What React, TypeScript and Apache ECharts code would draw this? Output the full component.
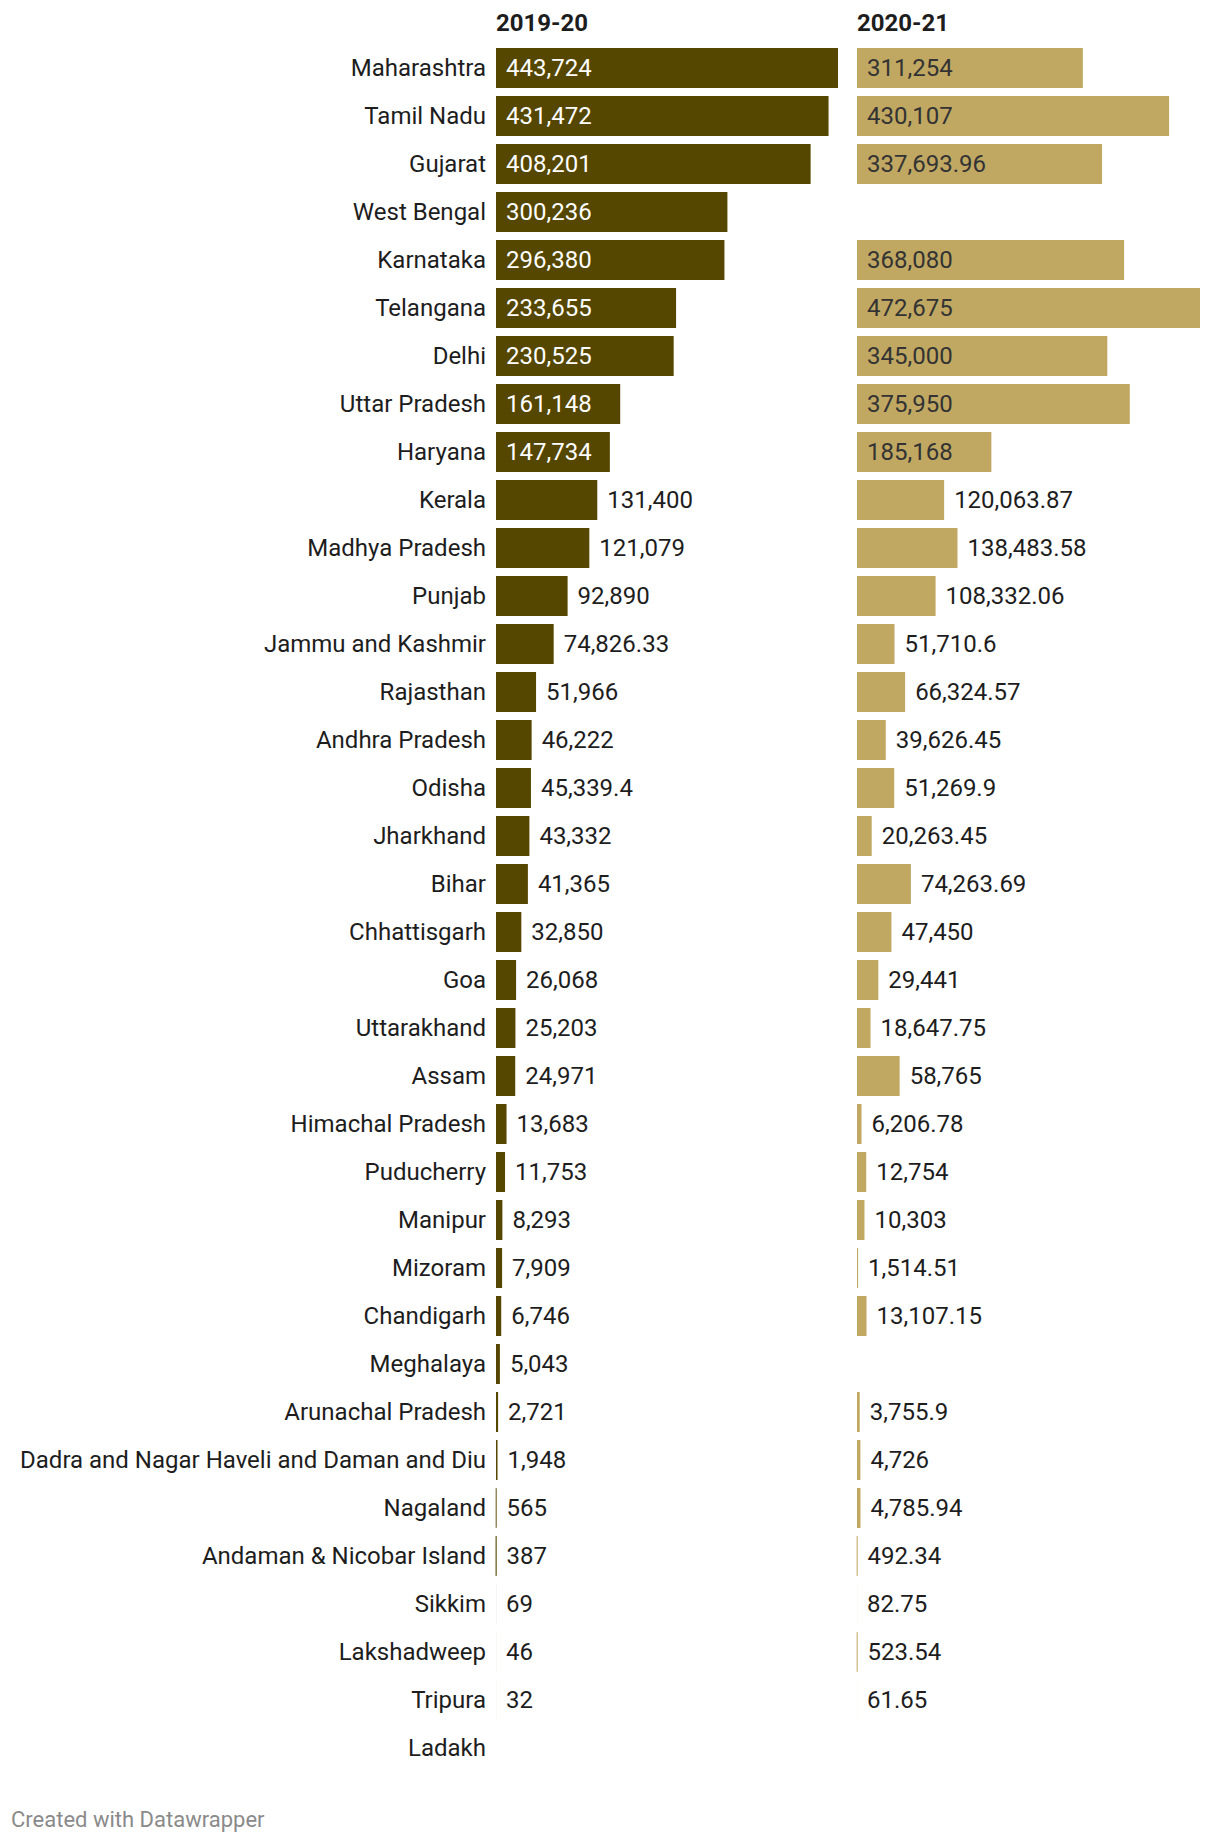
import React, { useEffect, useRef } from "react";
import * as echarts from "echarts";

const states = [
  "Maharashtra", "Tamil Nadu", "Gujarat", "West Bengal", "Karnataka", "Telangana", "Delhi",
  "Uttar Pradesh", "Haryana", "Kerala", "Madhya Pradesh", "Punjab", "Jammu and Kashmir",
  "Rajasthan", "Andhra Pradesh", "Odisha", "Jharkhand", "Bihar", "Chhattisgarh", "Goa",
  "Uttarakhand", "Assam", "Himachal Pradesh", "Puducherry", "Manipur", "Mizoram", "Chandigarh",
  "Meghalaya", "Arunachal Pradesh", "Dadra and Nagar Haveli and Daman and Diu", "Nagaland",
  "Andaman & Nicobar Island", "Sikkim", "Lakshadweep", "Tripura", "Ladakh",
];

const values2019 = [
  443724, 431472, 408201, 300236, 296380, 233655, 230525, 161148, 147734, 131400, 121079, 92890,
  74826.33, 51966, 46222, 45339.4, 43332, 41365, 32850, 26068, 25203, 24971, 13683, 11753, 8293,
  7909, 6746, 5043, 2721, 1948, 565, 387, 69, 46, 32, null,
];

const values2020 = [
  311254, 430107, 337693.96, null, 368080, 472675, 345000, 375950, 185168, 120063.87, 138483.58,
  108332.06, 51710.6, 66324.57, 39626.45, 51269.9, 20263.45, 74263.69, 47450, 29441, 18647.75,
  58765, 6206.78, 12754, 10303, 1514.51, 13107.15, null, 3755.9, 4726, 4785.94, 492.34, 82.75,
  523.54, 61.65, null,
];

const headers = ["2019-20", "2020-21"];
const footer = "Created with Datawrapper";

const FONT = "Roboto";
const FS = 24;
const PANEL_W = 342;
const LEFT_X = 496;
const RIGHT_X = 857;
const TOP = 44;
const ROW = 48;

const fmt = (v: number) => v.toLocaleString("en-US", { maximumFractionDigits: 2 });

export default function App() {
  const ref = useRef<HTMLDivElement>(null);

  useEffect(() => {
    document.body.style.margin = "0";
    if (!ref.current) return;
    const chart = echarts.init(ref.current, null, { renderer: "svg" });

    const canvas = document.createElement("canvas");
    const ctx = canvas.getContext("2d")!;
    ctx.font = `${FS}px ${FONT}`;
    const measure = (s: string) => ctx.measureText(s).width;

    const build = (vals: (number | null)[], color: string, insideColor: string) => {
      const max = Math.max(...(vals.filter((v) => v != null) as number[]));
      return vals.map((v) => {
        if (v == null) return { value: null };
        const barW = (v / max) * PANEL_W;
        const lw = measure(fmt(v));
        const inside = barW >= lw + 20;
        const item: any = {
          value: v,
          label: inside
            ? { position: "insideLeft", distance: 10, color: insideColor }
            : { position: "right", distance: 10, color: "#1d1d1d" },
        };
        // sub-pixel bars snap to a visible hairline, as in the reference rendering
        if (barW >= 0.25 && barW < 1) {
          item.itemStyle = { borderColor: color, borderWidth: 1 - barW };
        }
        return item;
      });
    };

    const rows = states.length;
    const height = rows * ROW;
    const c1 = "#554600";
    const c2 = "#c1a862";

    const option: any = {
      animation: false,
      textStyle: { fontFamily: FONT },
      grid: [
        { left: LEFT_X, top: TOP, width: PANEL_W, height },
        { left: RIGHT_X, top: TOP, width: PANEL_W + 1, height },
      ],
      xAxis: [
        { type: "value", gridIndex: 0, min: 0, max: "dataMax", show: false },
        { type: "value", gridIndex: 1, min: 0, max: "dataMax", show: false },
      ],
      yAxis: [
        {
          type: "category",
          gridIndex: 0,
          data: states,
          inverse: true,
          axisLine: { show: false },
          axisTick: { show: false },
          splitLine: { show: false },
          axisLabel: {
            margin: 10,
            fontSize: FS,
            fontFamily: FONT,
            color: "#1d1d1d",
            interval: 0,
          },
        },
        {
          type: "category",
          gridIndex: 1,
          data: states,
          inverse: true,
          show: false,
        },
      ],
      series: [
        {
          type: "bar",
          xAxisIndex: 0,
          yAxisIndex: 0,
          barWidth: 40,
          itemStyle: { color: c1 },
          label: {
            show: true,
            fontSize: FS,
            fontFamily: FONT,
            formatter: (p: any) => fmt(p.value),
          },
          data: build(values2019, c1, "#ffffff"),
        },
        {
          type: "bar",
          xAxisIndex: 1,
          yAxisIndex: 1,
          barWidth: 40,
          itemStyle: { color: c2 },
          label: {
            show: true,
            fontSize: FS,
            fontFamily: FONT,
            formatter: (p: any) => fmt(p.value),
          },
          data: build(values2020, c2, "#333333"),
        },
      ],
      graphic: [
        {
          type: "text",
          left: LEFT_X,
          top: 11,
          style: { text: headers[0], fontSize: FS, fontWeight: "bold", fontFamily: FONT, fill: "#1d1d1d" },
        },
        {
          type: "text",
          left: RIGHT_X,
          top: 11,
          style: { text: headers[1], fontSize: FS, fontWeight: "bold", fontFamily: FONT, fill: "#1d1d1d" },
        },
        {
          type: "text",
          left: 11,
          top: 1808,
          style: { text: footer, fontSize: 22, fontFamily: FONT, fill: "#8a8a8a" },
        },
      ],
    };

    chart.setOption(option);
    return () => chart.dispose();
  }, []);

  return <div ref={ref} style={{ width: 1220, height: 1844 }} />;
}
